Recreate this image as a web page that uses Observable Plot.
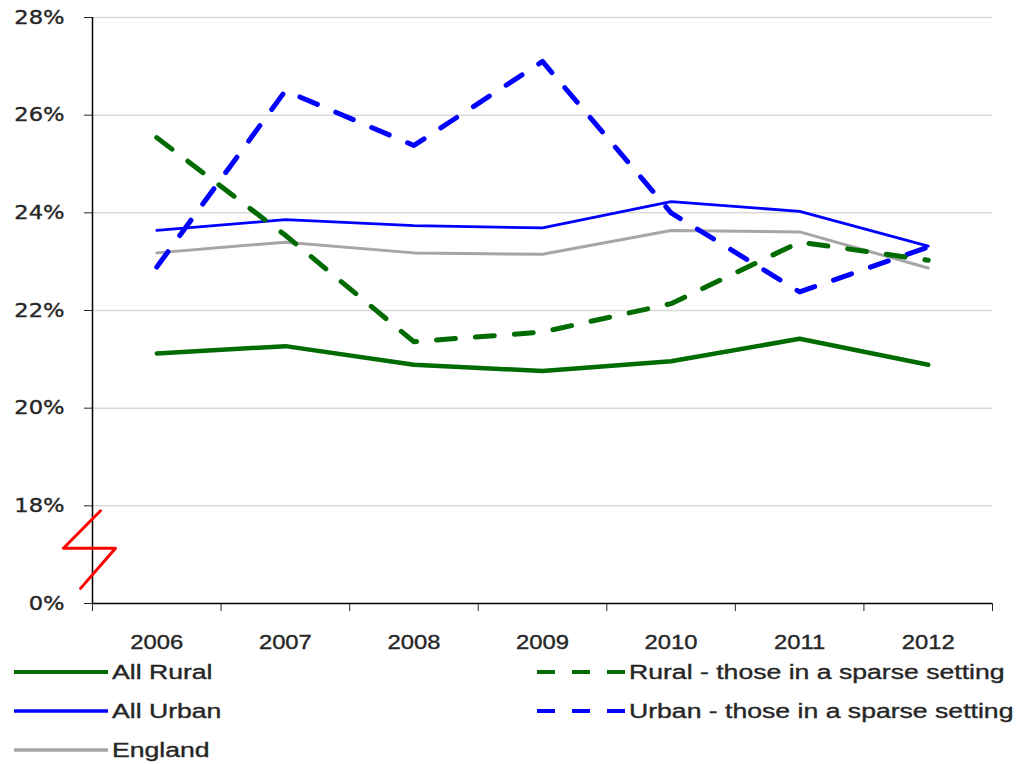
<!DOCTYPE html>
<html><head><meta charset="utf-8">
<script src="https://cdn.jsdelivr.net/npm/d3@7"></script>
<script src="https://cdn.jsdelivr.net/npm/@observablehq/plot@0.6"></script>
<style>
body{margin:0;background:#fff;}
#wrap{position:relative;width:1021px;height:764px;overflow:hidden;}
#wrap svg.plot{position:absolute;left:0;top:0;}
#wrap svg.plot g[aria-label$="tick label"] text{stroke:#262626;stroke-width:0.35px;}
.leg{position:absolute;height:30px;display:flex;align-items:center;font-family:"Liberation Sans",Arial,sans-serif;font-size:20px;color:#262626;-webkit-text-stroke:0.35px #262626;}
.leg svg{display:block;margin-right:4px;}
.leg span{display:inline-block;transform:scaleX(1.33);transform-origin:left center;white-space:nowrap;}
</style></head><body><div id="wrap"></div>
<script>
// ---- data ----
const years = [2006, 2007, 2008, 2009, 2010, 2011, 2012];
const allRural    = [21.12, 21.27, 20.89, 20.76, 20.96, 21.42, 20.89];
const ruralSparse = [25.54, 23.54, 21.36, 21.56, 22.14, 23.40, 23.03];
const allUrban    = [23.64, 23.86, 23.74, 23.69, 24.23, 24.03, 23.32];
const urbanSparse = [22.89, 26.50, 25.38, 27.10, 24.00, 22.38, 23.30];
const england     = [23.18, 23.40, 23.18, 23.15, 23.64, 23.61, 22.87];

const seriesNames = ["All Rural", "Rural - those in a sparse setting", "All Urban", "Urban - those in a sparse setting", "England"];
const seriesValues = [allRural, ruralSparse, allUrban, urbanSparse, england];
const seriesColors = ["#006b00", "#006b00", "#0000ff", "#0000ff", "#a6a6a6"];
const seriesDash = [null, "19 20", null, "19 20", null];
const seriesWidth = [4.5, 5, 2.8, 5, 3];
const drawOrder = [4, 2, 0, 3, 1];

// broken axis: display value 16 stands for 0%
const yTicks = [16, 18, 20, 22, 24, 26, 28];
const yTickLabels = ["0%", "18%", "20%", "22%", "24%", "26%", "28%"];
const xBoundaries = [2005.5, 2006.5, 2007.5, 2008.5, 2009.5, 2010.5, 2011.5, 2012.5];
// axis-break zigzag (x in year units, y in display units)
const breakX = [2005.562, 2005.274, 2005.679, 2005.407];
const breakY = [17.90, 17.13, 17.13, 16.31];

// legend layout (left col / right col)
const legendSlots = [[0, 0], [1, 0], [0, 1], [1, 1], [0, 2]];

// ---- build ----
const rows = seriesNames.flatMap((name, i) => years.map((yr, j) => ({series: name, year: yr, value: seriesValues[i][j]})));
const breakPts = breakX.map((x, i) => ({x, y: breakY[i]}));

const lineMarks = drawOrder.map(i => Plot.line(rows.filter(d => d.series === seriesNames[i]), {
  x: "year", y: "value", stroke: seriesColors[i], strokeWidth: seriesWidth[i],
  strokeDasharray: seriesDash[i] || undefined, strokeLinecap: "round", strokeLinejoin: "round"
}));

const chart = Plot.plot({
  width: 1021, height: 660,
  marginLeft: 92, marginRight: 29, marginTop: 17, marginBottom: 57,
  x: {type: "linear", domain: [2005.5, 2012.5]},
  y: {domain: [16, 28]},
  style: {overflow: "visible", background: "transparent"},
  marks: [
    Plot.ruleY(yTicks.slice(1), {stroke: "#d9d9d9", strokeWidth: 1.5}),
    Plot.axisY({ticks: yTicks, tickFormat: d => yTickLabels[yTicks.indexOf(d)], tickSize: 8, tickPadding: 20,
      label: null, fontSize: 19, fontFamily: "DejaVu Sans", color: "#262626"}),
    Plot.axisX({ticks: xBoundaries, tickFormat: () => "", tickSize: 8, label: null, color: "#262626"}),
    Plot.axisX({ticks: years, tickFormat: d => String(d), tickSize: 0, tickPadding: 31, label: null,
      fontSize: 20, fontFamily: "Liberation Sans", color: "#262626"}),
    Plot.ruleX([2005.5], {stroke: "#000", strokeWidth: 1.5}),
    Plot.ruleY([16], {stroke: "#000", strokeWidth: 1.5}),
    ...lineMarks,
    Plot.line(breakPts, {x: "x", y: "y", stroke: "#ff0000", strokeWidth: 3})
  ]
});
chart.classList.add("plot");
const wrap = document.getElementById("wrap");
wrap.append(chart);

// widen tick label glyphs to match the reference's stretched lettering
chart.querySelectorAll('g[aria-label="y-axis tick label"] text, g[aria-label="x-axis tick label"] text').forEach(t => {
  if (!t.textContent) return;
  const w = t.getComputedTextLength();
  t.setAttribute("textLength", w * 1.19);
  t.setAttribute("lengthAdjust", "spacingAndGlyphs");
});

// ---- legend ----
const colLeft = [14, 537];
const colSample = [94, 88];
const rowTop = [657, 696, 735];
seriesNames.forEach((name, i) => {
  const [c, r] = legendSlots[i];
  const div = document.createElement("div");
  div.className = "leg";
  div.style.left = colLeft[c] + "px";
  div.style.top = rowTop[r] + "px";
  const w = colSample[c];
  const dash = seriesDash[i] ? ' stroke-dasharray="18 17"' : "";
  const sw = seriesDash[i] ? 4 : Math.max(3.5, seriesWidth[i] - 0.5);
  div.innerHTML = `<svg width="${w}" height="30"><line x1="0" x2="${w}" y1="15" y2="15" stroke="${seriesColors[i]}" stroke-width="${sw}"${dash}/></svg><span>${name}</span>`;
  wrap.append(div);
});
</script>
</body></html>
